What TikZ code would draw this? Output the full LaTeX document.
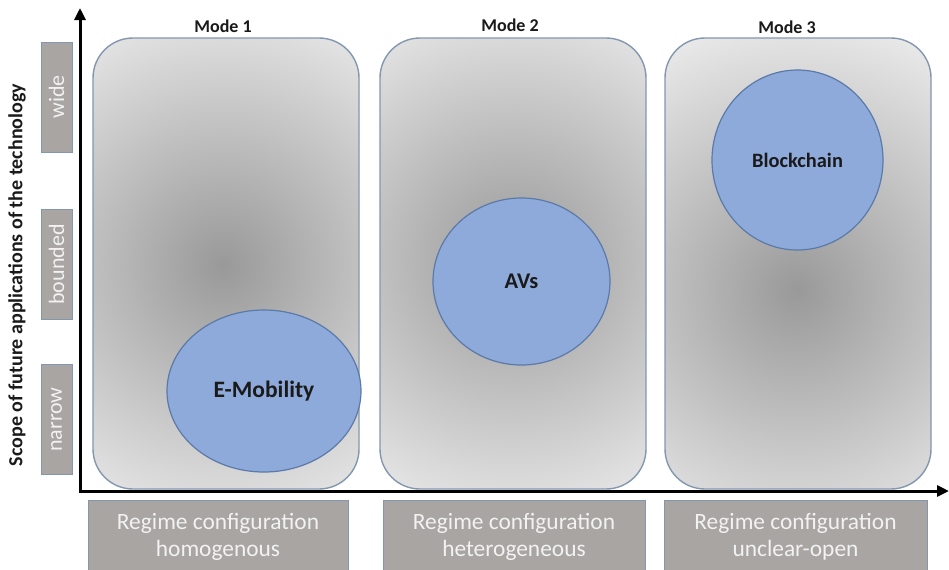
\documentclass[tikz,border=0pt]{standalone}
\usepackage{fontspec}
\setmainfont{Carlito}
\usetikzlibrary{shapes.geometric,arrows.meta}
\definecolor{boxline}{HTML}{8497B0}
\definecolor{ellfill}{HTML}{8EAADB}
\definecolor{ellline}{HTML}{5B7AA8}
\definecolor{labfill}{HTML}{A8A5A3}
\definecolor{labtext}{HTML}{F2F2F2}
\definecolor{shadein}{HTML}{999999}
\definecolor{shadeout}{HTML}{F2F2F2}
\definecolor{txt}{HTML}{1A1A1A}
\begin{document}
\begin{tikzpicture}[x=0.5pt,y=-0.5pt,
  modebox/.style={draw=boxline,line width=0.7pt,rounded corners=20pt,inner sep=0pt,outer sep=0pt,minimum width=133pt,minimum height=225.5pt},
  blob/.style={ellipse,draw=ellline,line width=0.6pt,fill=ellfill,inner sep=0pt,outer sep=0pt,text=txt,font=\bfseries},
  labbox/.style={draw=boxline,line width=0.4pt,fill=labfill,text=labtext,inner sep=0pt,outer sep=0pt,minimum width=55pt,minimum height=15.5pt,rotate=90,font=\fontsize{11}{13}\selectfont},
  regbox/.style={draw=boxline,line width=0.4pt,fill=labfill,text=labtext,inner sep=0pt,outer sep=0pt,minimum height=36.5pt,align=center,font=\fontsize{11.7}{13.5}\selectfont},
  modelab/.style={text=txt,font=\fontsize{9}{11}\selectfont\bfseries,inner sep=0pt},
  axis/.style={line width=1.5pt,line join=miter,{Triangle[length=6pt,width=5.5pt]}-{Triangle[length=6pt,width=5.5pt]}}
]
\useasboundingbox (0,0) rectangle (949,569);
\fill[white] (0,0) rectangle (949,569);

% mode boxes with radial shading (shade centre given relative to the node centre)
\node[modebox,fill=shadeout,path picture={\shade[inner color=shadein,outer color=shadeout] (-3,1.5) circle (305);}] (m1) at (226,263.5) {};
\node[modebox,fill=shadeout,path picture={\shade[inner color=shadein,outer color=shadeout] (0,-5) circle (305);}] (m2) at (513,263.5) {};
\node[modebox,fill=shadeout,path picture={\shade[inner color=shadein,outer color=shadeout] (-1,26.5) circle (305);}] (m3) at (798,263.5) {};

% mode titles
\node[modelab] (t1) at (223,26) {Mode 1};
\node[modelab] (t2) at (510,25) {Mode 2};
\node[modelab] (t3) at (787,27) {Mode 3};

% technologies
\node[blob,minimum width=97pt,minimum height=81pt,font=\fontsize{11.75}{14}\selectfont\bfseries] (emob) at (264,391) {E-Mobility};
\node[blob,minimum width=88.5pt,minimum height=83.5pt,font=\fontsize{11.2}{13}\selectfont\bfseries] (avs) at (521.5,281.5) {AVs};
\node[blob,minimum width=85.5pt,minimum height=90pt,font=\fontsize{10.2}{12}\selectfont\bfseries] (bc) at (797.5,160) {Blockchain};

% axes
\coordinate (o) at (80,491);
\coordinate (ytip) at (80,8);
\coordinate (xtip) at (949,491);
\draw[axis] (ytip) -- (o) -- (xtip);

% y-axis title
\node[text=txt,rotate=90,font=\fontsize{10}{12}\selectfont\bfseries,inner sep=0pt] (ylab) at (17,275) {Scope of future applications of the technology};

% scope levels
\node[labbox] (wide) at (56.5,97) {wide};
\node[labbox] (bounded) at (56.5,264.5) {bounded};
\node[labbox] (narrow) at (56.5,419.5) {narrow};

% regime boxes
\node[regbox,minimum width=130pt] (r1) at (218,536.5) {Regime configuration\\homogenous};
\node[regbox,minimum width=131pt] (r2) at (514,536.5) {Regime configuration\\heterogeneous};
\node[regbox,minimum width=131.5pt] (r3) at (795.5,536.5) {Regime configuration\\unclear-open};
\end{tikzpicture}
\end{document}
